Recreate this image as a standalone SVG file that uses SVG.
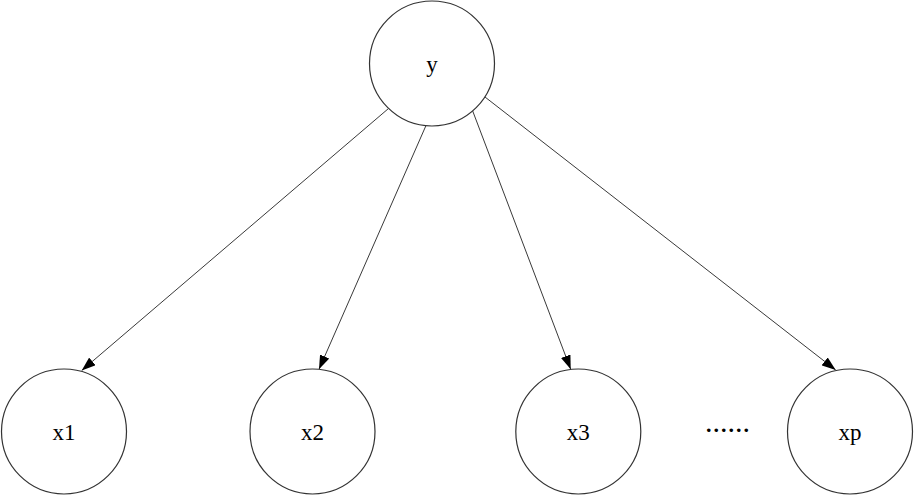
<svg xmlns="http://www.w3.org/2000/svg" width="914" height="495" viewBox="0 0 914 495">
<defs>
<marker id="arr" viewBox="0 0 14 10" refX="14" refY="5" markerWidth="14" markerHeight="10" markerUnits="userSpaceOnUse" orient="auto">
<path d="M0,0 L14,5 L0,10 z" fill="#000"/>
</marker>
</defs>
<style>
.node circle{fill:#fff;stroke:#333;stroke-width:1.2}
.node text{font-family:"Liberation Serif",serif;font-size:23px;fill:#000;text-anchor:middle}
.edges line{stroke:#222;stroke-width:0.9;marker-end:url(#arr)}
</style>
<rect width="914" height="495" fill="#fff"/>
<g class="edges" id="edges">
<line x1="388.5" y1="108.5" x2="81.7" y2="370.5"/>
<line x1="426" y1="125.5" x2="319" y2="369.3"/>
<line x1="472.7" y1="111" x2="570.7" y2="369.3"/>
<line x1="485" y1="97" x2="835.7" y2="370"/>
</g>
<g class="node" id="node-y"><circle cx="432" cy="63.5" r="62.5"/><text x="432" y="72">y</text></g>
<g class="node" id="node-x1"><circle cx="64" cy="431.5" r="62.5"/><text x="64" y="440">x1</text></g>
<g class="node" id="node-x2"><circle cx="312.5" cy="431.5" r="62.5"/><text x="312.5" y="440">x2</text></g>
<g class="node" id="node-x3"><circle cx="578.3" cy="431.5" r="62.5"/><text x="578.3" y="440">x3</text></g>
<g class="node" id="node-dots"><text x="728.5" y="432" style="letter-spacing:2px;font-weight:bold;font-size:22px">......</text></g>
<g class="node" id="node-xp"><circle cx="850" cy="431.5" r="62.5"/><text x="850" y="440">xp</text></g>
</svg>
